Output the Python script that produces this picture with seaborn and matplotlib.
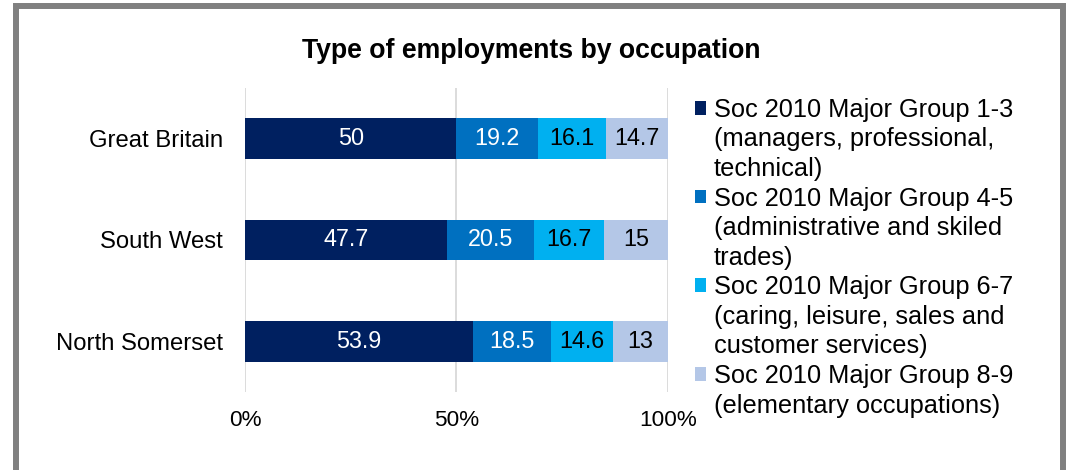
#stacked 100% bar chart of employment type by occupation
import matplotlib
matplotlib.use('Agg')
from matplotlib import pyplot as plt
from matplotlib.patches import Patch, Rectangle
import numpy as np
import pandas as pd
import seaborn as sns

regions = ['Great Britain', 'South West', 'North Somerset']
group_1_3 = [50, 47.7, 53.9]
group_4_5 = [19.2, 20.5, 18.5]
group_6_7 = [16.1, 16.7, 14.6]
group_8_9 = [14.7, 15, 13]
legend_lines = [
    ['Soc 2010 Major Group 1-3', '(managers, professional,', 'technical)'],
    ['Soc 2010 Major Group 4-5', '(administrative and skiled', 'trades)'],
    ['Soc 2010 Major Group 6-7', '(caring, leisure, sales and', 'customer services)'],
    ['Soc 2010 Major Group 8-9', '(elementary occupations)'],
]
x_ticks = [0, 50, 100]
x_tick_labels = ['0%', '50%', '100%']

colors = ['#002060', '#0070C0', '#00B0F0', '#B4C7E7']
text_colors = ['white', 'white', 'black', 'black']

sns.set_style('white')
plt.rcParams['font.family'] = ['Liberation Sans', 'DejaVu Sans']
plt.rcParams['text.color'] = 'black'
plt.rcParams['xtick.color'] = 'black'
plt.rcParams['ytick.color'] = 'black'

#build the table and the running totals for the stacked bars
df = pd.DataFrame({'region': regions, 'g1': group_1_3, 'g2': group_4_5,
                   'g3': group_6_7, 'g4': group_8_9})
vals = df[['g1', 'g2', 'g3', 'g4']].to_numpy(dtype=float)
shares = vals / vals.sum(axis=1, keepdims=True) * 100
cum = shares.cumsum(axis=1)

fig = plt.figure(figsize=(10.66, 4.70), dpi=100)
ax = fig.add_axes([0.2298, 0.166, 0.3968, 0.6468])

#draw the longest totals first so the shorter ones sit on top
for i in reversed(range(4)):
    sns.barplot(x=cum[:, i], y=df['region'], color=colors[i], saturation=1,
                width=0.4, orient='h', linewidth=0, ax=ax)

for j in range(len(regions)):
    for i in range(4):
        mid = cum[j, i] - shares[j, i] / 2
        ax.text(mid, j, f'{vals[j, i]:g}', ha='center', va='center',
                color=text_colors[i], fontsize=16.8)

ax.set_xlim(0, 100)
ax.set_xticks(x_ticks)
ax.set_xticklabels(x_tick_labels, fontsize=16.2)
ax.tick_params(axis='y', labelsize=17.2, length=0, pad=16)
ax.tick_params(axis='x', length=0, pad=13)
ax.set_xlabel('')
ax.set_ylabel('')
ax.grid(axis='x', color='#D9D9D9', linewidth=1.3)
ax.set_axisbelow(True)
sns.despine(ax=ax, left=True, bottom=True)

fig.text(0.4986, 1 - 51 / 470, 'Type of employments by occupation',
         ha='center', va='center', fontsize=19.2, fontweight='bold')

#legend: one row per text line, only the first line of each entry gets a square
handles = []
labels = []
for i, lines in enumerate(legend_lines):
    for k, line in enumerate(lines):
        if k == 0:
            handles.append(Patch(facecolor=colors[i], edgecolor='none'))
        else:
            handles.append(Patch(facecolor='none', edgecolor='none'))
        labels.append(line)
fig.legend(handles, labels, loc='upper left', bbox_to_anchor=(0.652, 0.792),
           frameon=False, fontsize=18.3, handlelength=0.45, handleheight=0.45,
           handletextpad=0.3, labelspacing=0.22, borderpad=0, borderaxespad=0)

#grey frame around the chart
fig.patches.append(Rectangle((16 / 1066, -10 / 470), 1047 / 1066, 473.7 / 470,
                             transform=fig.transFigure, fill=False,
                             edgecolor='#808080', linewidth=4.3))

plt.savefig('out.png', dpi=100)
